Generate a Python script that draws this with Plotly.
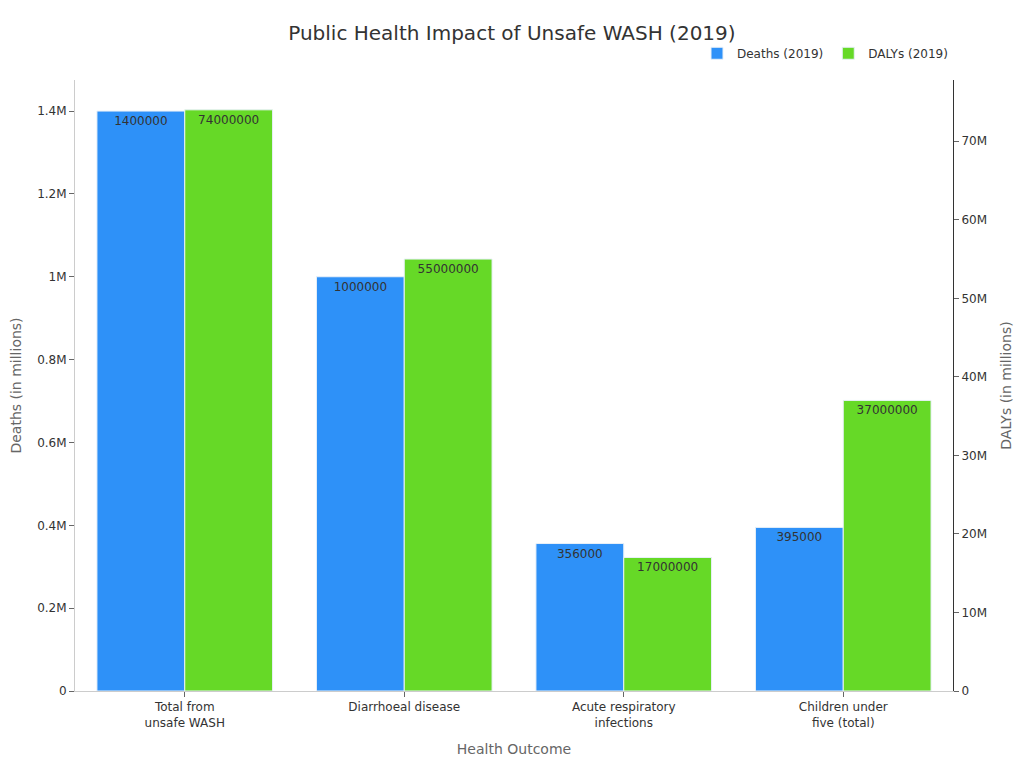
import plotly.graph_objects as go

categories = ["Total from<br>unsafe WASH", "Diarrhoeal disease", "Acute respiratory<br>infections", "Children under<br>five (total)"]
deaths = [1400000, 1000000, 356000, 395000]
dalys = [74000000, 55000000, 17000000, 37000000]
left_tickvals = [0, 200000, 400000, 600000, 800000, 1000000, 1200000, 1400000]
left_ticktext = ["0", "0.2M", "0.4M", "0.6M", "0.8M", "1M", "1.2M", "1.4M"]
right_tickvals = [0, 10e6, 20e6, 30e6, 40e6, 50e6, 60e6, 70e6]
right_ticktext = ["0", "10M", "20M", "30M", "40M", "50M", "60M", "70M"]

FONT = "DejaVu Sans"

fig = go.Figure()
fig.add_trace(go.Bar(
    x=categories, y=deaths, name="Deaths (2019)", offsetgroup="a",
    marker=dict(color="#2E91F8", line=dict(color="#E8F0F8", width=1)),
    texttemplate="%{y:.0f}", textposition="inside", insidetextanchor="end",
    textfont=dict(color="#333333", size=12, family=FONT), textangle=0,
    yaxis="y",
))
fig.add_trace(go.Bar(
    x=categories, y=dalys, name="DALYs (2019)", offsetgroup="b",
    marker=dict(color="#66D927", line=dict(color="#E8F0F8", width=1)),
    texttemplate="%{y:.0f}", textposition="inside", insidetextanchor="end",
    textfont=dict(color="#333333", size=12, family=FONT), textangle=0,
    yaxis="y2",
))

fig.update_layout(
    width=1016, height=760,
    paper_bgcolor="white", plot_bgcolor="white",
    font=dict(family=FONT, color="#333333", size=12),
    title=dict(text="Public Health Impact of Unsafe WASH (2019)", x=0.496, xanchor="center",
               y=0.967, yanchor="middle", font=dict(size=20, color="#333333", family=FONT)),
    margin=dict(l=67, r=71, t=72, b=77),
    barmode="group", bargap=0.2, bargroupgap=0,
    showlegend=True,
    legend=dict(orientation="h", x=1.0, xanchor="right", y=1.02, yanchor="bottom",
                font=dict(size=12, color="#333333", family=FONT)),
    xaxis=dict(
        title=dict(text="Health Outcome", font=dict(size=14, color="#666666"), standoff=15),
        showline=True, linecolor="#CCCCCC", linewidth=1, automargin=False,
        ticks="outside", ticklen=5, tickcolor="#666666",
        tickfont=dict(size=12, color="#333333"), showgrid=False,
    ),
    yaxis=dict(
        title=dict(text="Deaths (in millions)", font=dict(size=14, color="#666666")),
        showline=True, linecolor="#CCCCCC", linewidth=1, automargin=False,
        ticks="outside", ticklen=5, tickcolor="#666666",
        tickvals=left_tickvals, ticktext=left_ticktext,
        range=[0, 1475000],
        tickfont=dict(size=12, color="#333333"), showgrid=False, zeroline=False,
    ),
    yaxis2=dict(
        title=dict(text="DALYs (in millions)", font=dict(size=14, color="#666666")),
        overlaying="y", side="right", automargin=False,
        showline=True, linecolor="#333333", linewidth=1,
        ticks="outside", ticklen=5, tickcolor="#666666",
        tickvals=right_tickvals, ticktext=right_ticktext,
        range=[0, 77800000],
        tickfont=dict(size=12, color="#333333"), showgrid=False, zeroline=False,
    ),
)

fig.write_html("out.html")
